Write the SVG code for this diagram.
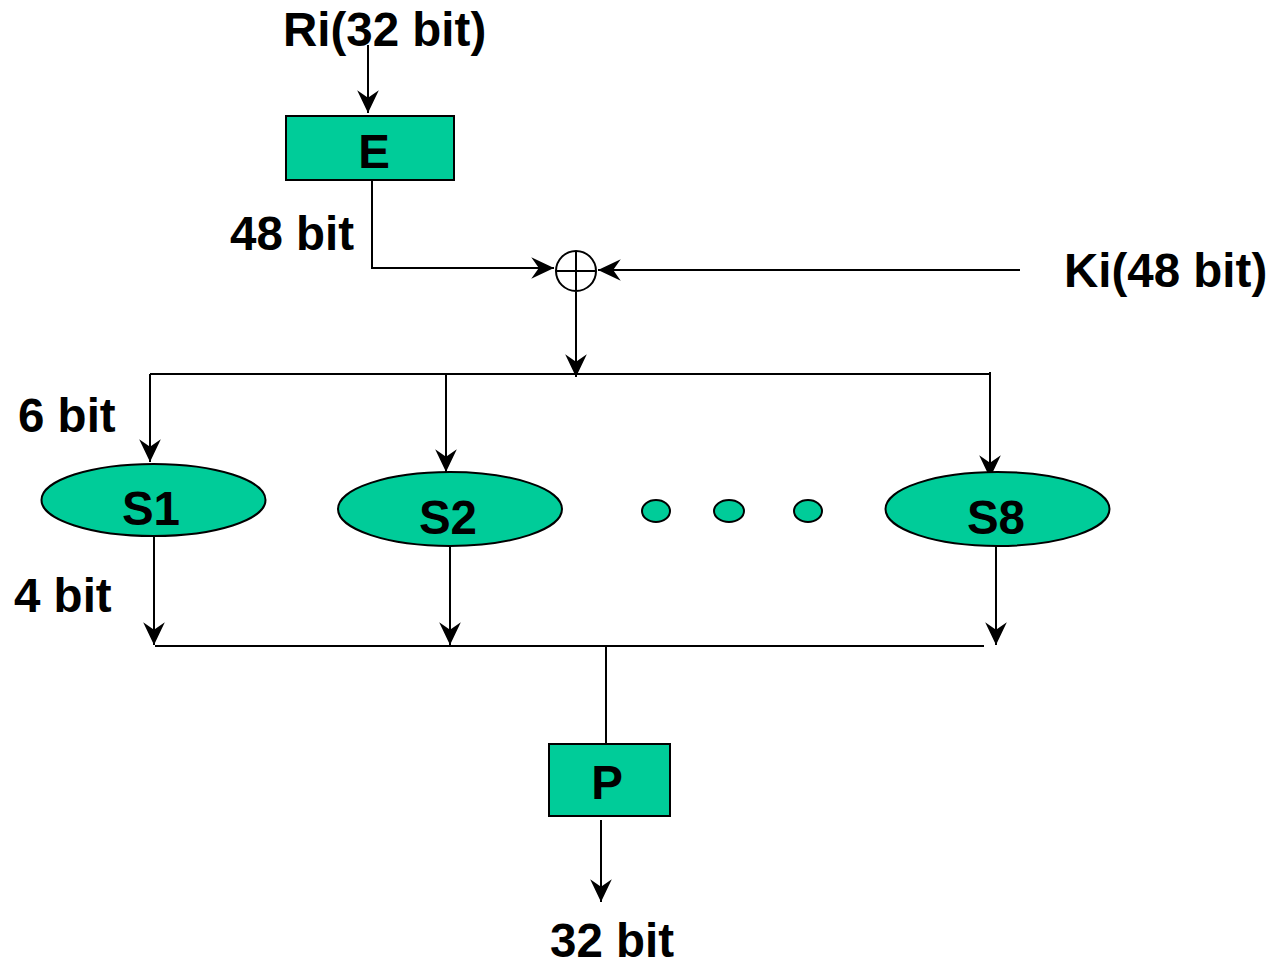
<svg xmlns="http://www.w3.org/2000/svg" width="1274" height="963" viewBox="0 0 1274 963">
  <style>
    .box { fill: #00CC99; stroke: #000; stroke-width: 2; }
    .lbl { font-family: "Liberation Sans", Arial, sans-serif; font-weight: bold; font-size: 47.5px; fill: #000; }
    .mid { text-anchor: middle; }
    .wire { fill: none; stroke: #000; stroke-width: 2; }
    .arrow { marker-end: url(#head); }
  </style>
  <defs>
    <marker id="head" markerUnits="userSpaceOnUse" markerWidth="26" markerHeight="26" viewBox="-23 -12 24 24" refX="0" refY="0" orient="auto">
      <path d="M0,0 L-21,-10 L-14,0 L-21,10 Z" fill="#000"/>
    </marker>
  </defs>

  <rect width="1274" height="963" fill="#fff"/>

  <!-- connectors -->
  <g id="connectors">
    <path class="wire arrow" d="M368,45 V113"/>
    <path class="wire arrow" d="M372,180 V268 H554"/>
    <path class="wire arrow" d="M1020,270 H598"/>
    <path class="wire arrow" d="M576,292 V377"/>
    <path class="wire" d="M150,374 H990"/>
    <path class="wire arrow" d="M150,374 V462"/>
    <path class="wire arrow" d="M446,374 V472"/>
    <path class="wire arrow" d="M990,372 V478"/>
    <path class="wire arrow" d="M154,536 V645"/>
    <path class="wire arrow" d="M450,546 V645"/>
    <path class="wire arrow" d="M996,546 V645"/>
    <path class="wire" d="M155,646 H984"/>
    <path class="wire" d="M606,646 V744"/>
    <path class="wire arrow" d="M601,820 V902"/>
  </g>

  <!-- input / output labels -->
  <g id="labels">
    <text class="lbl" x="283" y="46">Ri(32 bit)</text>
    <text class="lbl" x="1064" y="287">Ki(48 bit)</text>
    <text class="lbl" x="230" y="250">48 bit</text>
    <text class="lbl" x="18" y="432">6 bit</text>
    <text class="lbl" x="14" y="612">4 bit</text>
    <text class="lbl" x="550" y="957">32 bit</text>
  </g>

  <g id="node-E">
    <rect class="box" x="286" y="116" width="168" height="64"/>
    <text class="lbl mid" x="374" y="168">E</text>
  </g>

  <g id="node-xor">
    <circle cx="576" cy="271" r="20" fill="#fff" stroke="#000" stroke-width="2"/>
    <path class="wire" d="M576,252 V290 M557,271 H595"/>
  </g>

  <g id="node-S1">
    <ellipse class="box" cx="153.5" cy="500" rx="112" ry="36"/>
    <text class="lbl mid" x="151" y="525">S1</text>
  </g>

  <g id="node-S2">
    <ellipse class="box" cx="450" cy="509" rx="112" ry="37"/>
    <text class="lbl mid" x="448" y="534">S2</text>
  </g>

  <g id="node-dots">
    <ellipse class="box" cx="656" cy="511" rx="14" ry="11"/>
    <ellipse class="box" cx="729" cy="511" rx="15" ry="11"/>
    <ellipse class="box" cx="808" cy="511" rx="14" ry="11"/>
  </g>

  <g id="node-S8">
    <ellipse class="box" cx="997.5" cy="509" rx="112" ry="37"/>
    <text class="lbl mid" x="996" y="534">S8</text>
  </g>

  <g id="node-P">
    <rect class="box" x="549" y="744" width="121" height="72"/>
    <text class="lbl mid" x="607" y="799">P</text>
  </g>
</svg>
